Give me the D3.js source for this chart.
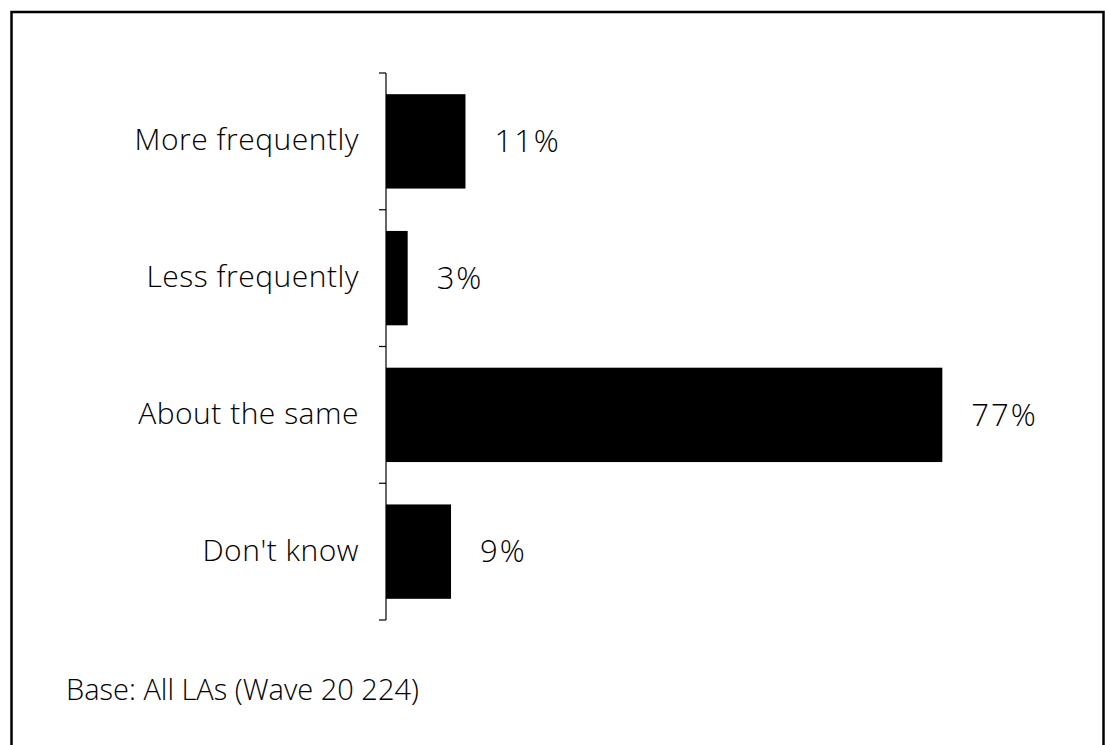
<!DOCTYPE html>
<html>
<head>
<meta charset="utf-8">
<script src="https://cdn.jsdelivr.net/npm/d3@7"></script>
<style>
  html, body { margin: 0; padding: 0; background: #fff; }
  svg { display: block; }
  text { font-family: "Open Sans", "Noto Sans", sans-serif; font-weight: 300; fill: #000; }
</style>
</head>
<body>
<svg id="chart" width="1105" height="745"></svg>
<script>
const categories = ["More frequently", "Less frequently", "About the same", "Don't know"];
const values = [11, 3, 77, 9];
const valueLabels = ["11%", "3%", "77%", "9%"];
const baseNote = "Base: All LAs (Wave 20 224)";

const svg = d3.select("#chart");

// frame
svg.append("rect")
  .attr("x", 11.5).attr("y", 12)
  .attr("width", 1092).attr("height", 760)
  .attr("fill", "none").attr("stroke", "#000").attr("stroke-width", 2.5);

const axisX = 386;
const x = d3.scaleLinear().domain([0, 80]).range([axisX, axisX + 578]);
const y = d3.scaleBand().domain(categories).range([73, 620])
  .paddingInner(0.31).paddingOuter(0.155);

// bars
svg.selectAll("rect.bar").data(values).join("rect")
  .attr("class", "bar")
  .attr("x", x(0))
  .attr("y", (d, i) => y(categories[i]))
  .attr("width", d => x(d) - x(0))
  .attr("height", y.bandwidth())
  .attr("fill", "#000");

// axis line and ticks at band boundaries
const [r0, r1] = y.range();
svg.append("line")
  .attr("x1", axisX).attr("x2", axisX)
  .attr("y1", r0).attr("y2", r1)
  .attr("stroke", "#000").attr("stroke-width", 1.2);
const bounds = d3.range(categories.length + 1).map(i => r0 + i * y.step());
svg.selectAll("line.tick").data(bounds).join("line")
  .attr("class", "tick")
  .attr("x1", axisX - 7).attr("x2", axisX)
  .attr("y1", d => d).attr("y2", d => d)
  .attr("stroke", "#000").attr("stroke-width", 1.2);

// category labels
svg.selectAll("text.cat").data(categories).join("text")
  .attr("class", "cat")
  .attr("x", axisX - 27)
  .attr("y", d => y(d) + y.bandwidth() / 2)
  .attr("dy", "0.30em")
  .attr("text-anchor", "end")
  .attr("font-size", 30)
  .attr("letter-spacing", 0.5)
  .text(d => d);

// value labels
svg.selectAll("text.val").data(values).join("text")
  .attr("class", "val")
  .attr("x", d => x(d) + 29)
  .attr("y", (d, i) => y(categories[i]) + y.bandwidth() / 2)
  .attr("dy", "0.35em")
  .attr("font-size", 31)
  .attr("letter-spacing", 2)
  .text((d, i) => valueLabels[i]);

// base note
svg.append("text")
  .attr("x", 66).attr("y", 700)
  .attr("font-size", 29)
  .text(baseNote);
</script>
</body>
</html>
